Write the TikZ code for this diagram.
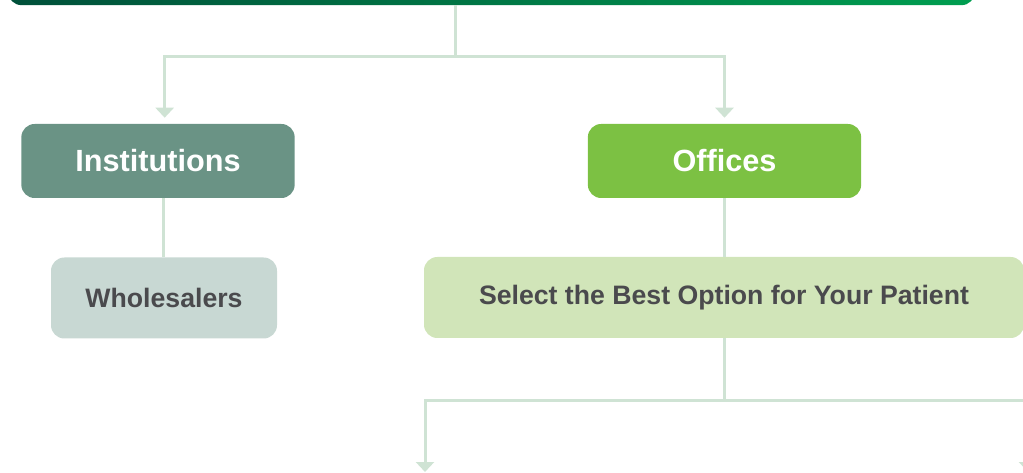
\documentclass[tikz,border=0pt]{standalone}
\usepackage{fontspec}
\setmainfont{Liberation Sans}
\usetikzlibrary{arrows.meta,positioning}

\definecolor{barleft}{RGB}{0,80,58}
\definecolor{barright}{RGB}{0,158,80}
\definecolor{instgreen}{RGB}{106,147,133}
\definecolor{officegreen}{RGB}{124,193,67}
\definecolor{wholegray}{RGB}{200,216,211}
\definecolor{selectgreen}{RGB}{209,229,185}
\definecolor{linkgreen}{RGB}{207,227,212}
\definecolor{textgray}{RGB}{74,74,77}

\begin{document}
\begin{tikzpicture}[x=0.75pt,y=-0.75pt]
\tikzset{
  box/.style={rounded corners=10pt,inner sep=0pt,align=center},
  headbox/.style={box,minimum width=205pt,minimum height=55.5pt,text=white,font=\bfseries\fontsize{23}{27}\selectfont},
  subbox/.style={box,minimum height=60.75pt,text=textgray,font=\bfseries\fontsize{20}{24}\selectfont},
  link/.style={draw=linkgreen,line width=2.25pt},
  directed/.style={link,-{Triangle[length=7.5pt,width=13.5pt]},shorten >=4.5pt}
}
\clip (0,0) rectangle (1023,473);
% top banner, only its lower edge shows
\node[box,minimum width=725pt,minimum height=22pt,left color=barleft,right color=barright] (banner) at (491.5,-9.5) {};
% first level
\node[headbox,fill=instgreen] (inst) at (158,161) {Institutions};
\node[headbox,fill=officegreen] (office) at (724.5,161) {Offices};
% second level
\node[subbox,fill=wholegray,minimum width=169.5pt] (whole) at (164,298) {Wholesalers};
\node[subbox,fill=selectgreen,minimum width=450pt] (select) at (724,297.5) {Select the Best Option for Your Patient};
% split points and open ends
\coordinate (split) at (455,57);
\coordinate (fork) at (724,400);
\coordinate (out_l) at (425,478);
\coordinate (out_r) at (1028,478);
\draw[link] (banner.south -| split) -- (split);
\draw[directed] (split) -| ([xshift=5pt]inst.north);
\draw[directed] (split) -| (office.north);
\draw[link] ([xshift=4pt]inst.south) -- ([xshift=-0.5pt]whole.north);
\draw[link] (office.south) -- (office.south |- select.north);
\draw[link] (select.south -| fork) -- (fork);
\draw[directed] (fork) -| (out_l);
\draw[directed] (fork) -| (out_r);
\end{tikzpicture}
\end{document}
